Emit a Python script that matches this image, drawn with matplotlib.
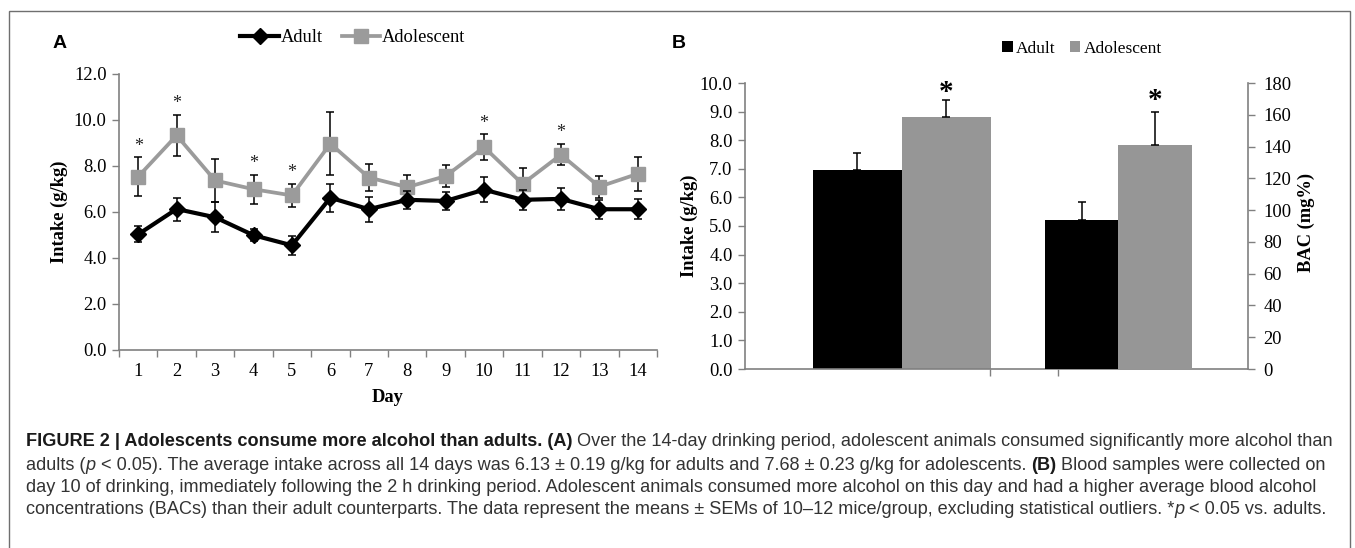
import matplotlib
matplotlib.use("Agg")
import matplotlib.pyplot as plt
from matplotlib.patches import Rectangle, Patch
from matplotlib.lines import Line2D
from matplotlib.font_manager import FontProperties

# ---------------- data ----------------
days = list(range(1, 15))
adult_intake = [5.03, 6.13, 5.77, 4.99, 4.55, 6.62, 6.12, 6.53, 6.48, 6.97, 6.53, 6.57, 6.12, 6.12]
adult_sem = [0.35, 0.50, 0.65, 0.26, 0.40, 0.60, 0.55, 0.40, 0.38, 0.55, 0.43, 0.47, 0.42, 0.44]
adol_intake = [7.54, 9.33, 7.37, 6.99, 6.72, 8.97, 7.50, 7.08, 7.56, 8.82, 7.22, 8.49, 7.10, 7.66]
adol_sem = [0.83, 0.90, 0.95, 0.63, 0.50, 1.38, 0.58, 0.55, 0.47, 0.55, 0.70, 0.46, 0.48, 0.75]
sig_days = [1, 2, 4, 5, 10, 12]

groups = ["Adult", "Adolescent"]
b_intake = [6.96, 8.81]
b_intake_sem = [0.58, 0.58]
b_bac = [94, 141]
b_bac_sem = [11, 20.5]

a_yticks = [0, 2, 4, 6, 8, 10, 12]
b_yticks = [0, 1, 2, 3, 4, 5, 6, 7, 8, 9, 10]
b_y2ticks = [0, 20, 40, 60, 80, 100, 120, 140, 160, 180]

# ---------------- figure ----------------
W, H = 1355, 548
fig = plt.figure(figsize=(W / 100, H / 100), dpi=100)
fig.patch.set_facecolor("white")

SERIF = "Liberation Serif"
SANS = "Liberation Sans"
AX_COL = "#808080"
GRAY = "#9b9b9b"
BARGRAY = "#969696"
TICK_FS = 13.3


def fa(l, t, r, b):
    return [l / W, 1 - b / H, (r - l) / W, (b - t) / H]


# outer frame
fig.add_artist(Rectangle((9 / W, -0.1), (1350 - 9) / W, 1.1 - 11 / H,
                         transform=fig.transFigure, fill=False,
                         edgecolor="#6f6f6f", lw=1.0))

# ---------------- panel A ----------------
axA = fig.add_axes(fa(119, 74, 657, 350))
axA.errorbar(days, adol_intake, yerr=adol_sem, color=GRAY, lw=2.7,
             marker="s", ms=9.5, mfc=GRAY, mec=GRAY,
             ecolor="black", elinewidth=1.1, capsize=3.2, capthick=1.1, zorder=3)
axA.errorbar(days, adult_intake, yerr=adult_sem, color="black", lw=3.0,
             marker="D", ms=7.8, mfc="black", mec="black",
             ecolor="black", elinewidth=1.1, capsize=3.2, capthick=1.1, zorder=4)
for d in sig_days:
    i = days.index(d)
    axA.text(d, adol_intake[i] + adol_sem[i] + 0.12, "*", ha="center", va="bottom",
             fontsize=13, family=SERIF, color="#222222")
axA.set_xlim(0.5, 14.5)
axA.set_ylim(0, 12)
axA.set_yticks(a_yticks)
axA.set_yticklabels([f"{v:.1f}" for v in a_yticks])
axA.set_xticks(days)
axA.set_xticklabels([str(d) for d in days])
axA.set_xticks([d + 0.5 for d in range(0, 15)], minor=True)
axA.tick_params(axis="x", which="major", length=0, pad=9, labelsize=TICK_FS)
axA.tick_params(axis="x", which="minor", length=5, width=1.0, color=AX_COL, direction="out")
axA.tick_params(axis="y", length=5, width=1.0, color=AX_COL, labelsize=TICK_FS, pad=4)
for lab in axA.get_xticklabels() + axA.get_yticklabels():
    lab.set_family(SERIF)
for s in ["top", "right"]:
    axA.spines[s].set_visible(False)
for s in ["left", "bottom"]:
    axA.spines[s].set_color(AX_COL)
    axA.spines[s].set_linewidth(1.2)
axA.set_facecolor("none")

fig.text(59 / W, 1 - 212 / H, "Intake (g/kg)", rotation=90, ha="center", va="center",
         family=SERIF, weight="bold", fontsize=13.3)
fig.text(388 / W, 1 - 398 / H, "Day", ha="center", va="center",
         family=SERIF, weight="bold", fontsize=13.3)
fig.text(60 / W, 1 - 43 / H, "A", ha="center", va="center",
         family=SANS, weight="bold", fontsize=14)

hA = [Line2D([], [], color="black", lw=3.0, marker="D", ms=7.8),
      Line2D([], [], color=GRAY, lw=2.7, marker="s", ms=9.5)]
fig.legend(hA, groups, loc="center", bbox_to_anchor=(353 / W, 1 - 38 / H), ncol=2,
           frameon=False, prop=FontProperties(family=SERIF, size=13.3),
           handlelength=2.1, handletextpad=0.1, columnspacing=1.0, borderpad=0)

# ---------------- panel B ----------------
axB = fig.add_axes(fa(745, 83, 1248, 369))
axB2 = axB.twinx()
# layout positions (axis fraction) for the overlaid Excel-style bars
pos_intake = [0.2235, 0.4005]
w_intake = 0.177
pos_bac = [0.669, 0.815]
w_bac = 0.146
cols = ["black", BARGRAY]
for k in range(2):
    axB.bar(pos_intake[k], b_intake[k], width=w_intake, color=cols[k], zorder=2)
    axB.errorbar(pos_intake[k], b_intake[k], yerr=[[0], [b_intake_sem[k]]], fmt="none",
                 ecolor="black", elinewidth=1.1, capsize=3.2, capthick=1.1, zorder=3)
    axB2.bar(pos_bac[k], b_bac[k], width=w_bac, color=cols[k], zorder=2)
    axB2.errorbar(pos_bac[k], b_bac[k], yerr=[[0], [b_bac_sem[k]]], fmt="none",
                  ecolor="black", elinewidth=1.1, capsize=3.2, capthick=1.1, zorder=3)
axB.text(pos_intake[1], b_intake[1] + b_intake_sem[1] - 0.2, "*", ha="center", va="bottom",
         fontsize=21, family=SERIF, weight="bold")
axB2.text(pos_bac[1], b_bac[1] + b_bac_sem[1] - 1.0, "*", ha="center", va="bottom",
          fontsize=21, family=SERIF, weight="bold")
axB.set_xlim(0, 1)
axB.set_ylim(0, 10)
axB2.set_ylim(0, 180)
axB.set_yticks(b_yticks)
axB.set_yticklabels([f"{v:.1f}" for v in b_yticks])
axB2.set_yticks(b_y2ticks)
axB2.set_yticklabels([str(v) for v in b_y2ticks])
axB.set_xticks([0.487, 0.623])
axB.set_xticklabels([])
axB.tick_params(axis="x", length=5, width=1.0, color=AX_COL, direction="out")
axB.tick_params(axis="y", length=5, width=1.0, color=AX_COL, labelsize=TICK_FS, pad=4)
axB2.tick_params(axis="y", length=5, width=1.0, color=AX_COL, labelsize=TICK_FS, pad=6)
for lab in axB.get_yticklabels() + axB2.get_yticklabels():
    lab.set_family(SERIF)
axB.spines["top"].set_visible(False)
axB.spines["right"].set_visible(False)
axB2.spines["top"].set_visible(False)
axB2.spines["left"].set_visible(False)
axB2.spines["bottom"].set_visible(False)
for s in [axB.spines["left"], axB.spines["bottom"], axB2.spines["right"]]:
    s.set_color(AX_COL)
    s.set_linewidth(1.2)
axB.set_facecolor("none")

fig.text(689 / W, 1 - 226 / H, "Intake (g/kg)", rotation=90, ha="center", va="center",
         family=SERIF, weight="bold", fontsize=13.3)
fig.text(1306 / W, 1 - 222 / H, "BAC (mg%)", rotation=90, ha="center", va="center",
         family=SERIF, weight="bold", fontsize=13.3)
fig.text(679 / W, 1 - 43 / H, "B", ha="center", va="center",
         family=SANS, weight="bold", fontsize=14)

hB = [Patch(facecolor="black"), Patch(facecolor=BARGRAY)]
fig.legend(hB, groups, loc="center", bbox_to_anchor=(1082 / W, 1 - 49 / H), ncol=2,
           frameon=False, prop=FontProperties(family=SERIF, size=12.5),
           handlelength=0.6, handleheight=0.6, handletextpad=0.2, columnspacing=0.8, borderpad=0)

# ---------------- caption ----------------
N, Bd, I = "normal", "bold", "italic"
cap_lines = [
    [("FIGURE 2 | Adolescents consume more alcohol than adults. (A)", Bd),
     (" Over the 14-day drinking period, adolescent animals consumed significantly more alcohol than", N)],
    [("adults (", N), ("p", I),
     (" < 0.05). The average intake across all 14 days was 6.13 \u00b1 0.19 g/kg for adults and 7.68 \u00b1 0.23 g/kg for adolescents. ", N),
     ("(B)", Bd), (" Blood samples were collected on", N)],
    [("day 10 of drinking, immediately following the 2 h drinking period. Adolescent animals consumed more alcohol on this day and had a higher average blood alcohol", N)],
    [("concentrations (BACs) than their adult counterparts. The data represent the means \u00b1 SEMs of 10\u201312 mice/group, excluding statistical outliers. *", N),
     ("p", I), (" < 0.05 vs. adults.", N)],
]
cap_y = [442, 465, 487, 509]
cap_x0 = 26
target_w = 1337 - 26
renderer = fig.canvas.get_renderer()


def props(style, size):
    if style == Bd:
        return dict(family=SANS, weight="bold", fontsize=size, color="#1a1a1a")
    if style == I:
        return dict(family=SANS, style="italic", fontsize=size, color="#333333")
    return dict(family=SANS, fontsize=size, color="#333333")


def run_width(s, style, size):
    t1 = fig.text(0, 0, s + "|", **props(style, size))
    t2 = fig.text(0, 0, "|", **props(style, size))
    w = t1.get_window_extent(renderer).width - t2.get_window_extent(renderer).width
    t1.remove()
    t2.remove()
    return w


base = 11.5
w0 = sum(run_width(s, st, base) for s, st in cap_lines[0])
size = base * target_w / w0
for line, y in zip(cap_lines, cap_y):
    x = cap_x0
    for s, st in line:
        fig.text(x / W, 1 - y / H, s, ha="left", va="center", **props(st, size))
        x += run_width(s, st, size)

fig.savefig("out.png", dpi=100, facecolor="white")
